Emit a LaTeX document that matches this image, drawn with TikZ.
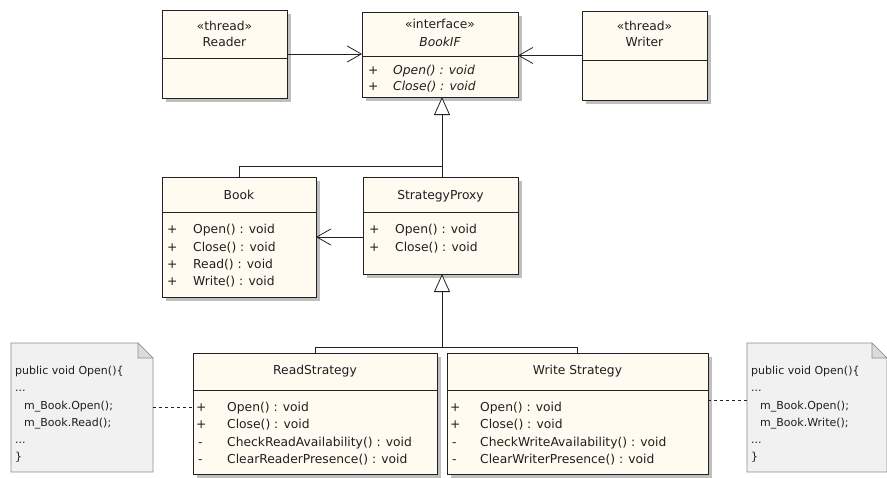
\documentclass[tikz,border=0pt]{standalone}
\usepackage{fontspec}
\setmainfont{DejaVu Sans}
\usetikzlibrary{arrows.meta,shadows}
\definecolor{cream}{HTML}{FFFBF0}
\definecolor{notefill}{HTML}{F1F1F1}
\definecolor{notedraw}{HTML}{8C8C8C}
\definecolor{linec}{HTML}{222222}
\begin{document}
\begin{tikzpicture}[x=1pt,y=-1pt,
  classbox/.style={draw=linec, fill=cream, line width=0.9pt, anchor=north west,
    inner sep=0pt, outer sep=0pt,
    drop shadow={shadow xshift=3.5pt, shadow yshift=-3.5pt, fill=black!25, opacity=1}},
  notespace/.style={anchor=north west, inner sep=0pt, outer sep=0pt},
  notebox/.style={draw=notedraw, fill=notefill, line width=0.7pt},
  foldbox/.style={draw=notedraw, fill=black!14, line width=0.6pt},
  divline/.style={draw=linec, line width=0.9pt},
  txt/.style={inner sep=0pt, text=black!88, font=\fontsize{12.3}{15}\selectfont,
    text height=9pt, text depth=3pt},
  ntxt/.style={txt, anchor=west, font=\fontsize{11}{14}\selectfont},
  mem/.style={txt, anchor=west},
  conn/.style={draw=linec, line width=0.9pt},
  assoc/.style={conn, -{Straight Barb[length=14pt,width=16pt,line width=0.8pt]}},
  gen/.style={conn, -{Triangle[open,length=18pt,width=16pt,line width=0.8pt,fill=white]}},
  notelink/.style={draw=linec, line width=0.9pt, dash pattern=on 3pt off 3pt}
]
\useasboundingbox[fill=white] (0,0) rectangle (887,477);

% ---------- class boxes ----------
\node[classbox, minimum width=125pt, minimum height=88pt] (reader) at (162,10) {};
\node[classbox, minimum width=156pt, minimum height=85pt] (bookif) at (362,12) {};
\node[classbox, minimum width=125pt, minimum height=89pt] (writer) at (582,11) {};
\node[classbox, minimum width=154pt, minimum height=120pt] (book) at (162,177) {};
\node[classbox, minimum width=155pt, minimum height=97pt] (sp) at (363,177) {};
\node[classbox, minimum width=244pt, minimum height=121pt] (rs) at (193,353) {};
\node[classbox, minimum width=261pt, minimum height=121pt] (ws) at (447,353) {};

% dividers
\draw[divline] (162,58) -- (287,58);
\draw[divline] (362,56) -- (518,56);
\draw[divline] (582,60) -- (707,60);
\draw[divline] (162,212) -- (316,212);
\draw[divline] (363,212) -- (518,212);
\draw[divline] (193,390) -- (437,390);
\draw[divline] (447,390) -- (708,390);

% Reader
\node[txt] (readerst) at (224.5,27) {«thread»};
\node[txt] (readern) at (224.5,43) {Reader};
% BookIF
\node[txt] (bookifst) at (440,25) {«interface»};
\node[txt, font=\fontsize{12.3}{15}\selectfont\itshape] (bookifn) at (440,43) {BookIF};
\node[mem] (bif1p) at (368,71) {+};
\node[mem, font=\fontsize{12.3}{15}\selectfont\itshape] (bif1) at (393,71) {Open() : void};
\node[mem] (bif2p) at (368,87) {+};
\node[mem, font=\fontsize{12.3}{15}\selectfont\itshape] (bif2) at (393,87) {Close() : void};
% Writer
\node[txt] (writerst) at (644.5,27) {«thread»};
\node[txt] (writern) at (644.5,43) {Writer};
% Book
\node[txt] (bookn) at (239,196) {Book};
\node[mem] (b1p) at (167,230) {+};
\node[mem] (b1) at (193,230) {Open() : void};
\node[mem] (b2p) at (167,248) {+};
\node[mem] (b2) at (193,248) {Close() : void};
\node[mem] (b3p) at (167,265) {+};
\node[mem] (b3) at (193,265) {Read() : void};
\node[mem] (b4p) at (167,282) {+};
\node[mem] (b4) at (193,282) {Write() : void};
% StrategyProxy
\node[txt] (spn) at (440.5,196) {StrategyProxy};
\node[mem] (sp1p) at (369,230) {+};
\node[mem] (sp1) at (395,230) {Open() : void};
\node[mem] (sp2p) at (369,248) {+};
\node[mem] (sp2) at (395,248) {Close() : void};
% ReadStrategy
\node[txt] (rsn) at (315,371) {ReadStrategy};
\node[mem] (rs1p) at (196,408) {+};
\node[mem] (rs1) at (227,408) {Open() : void};
\node[mem] (rs2p) at (196,425) {+};
\node[mem] (rs2) at (227,425) {Close() : void};
\node[mem] (rs3p) at (198,443) {-};
\node[mem] (rs3) at (227,443) {CheckReadAvailability() : void};
\node[mem] (rs4p) at (198,460) {-};
\node[mem] (rs4) at (227,460) {ClearReaderPresence() : void};
% WriteStrategy
\node[txt] (wsn) at (577.5,371) {Write Strategy};
\node[mem] (ws1p) at (450,408) {+};
\node[mem] (ws1) at (480,408) {Open() : void};
\node[mem] (ws2p) at (450,425) {+};
\node[mem] (ws2) at (480,425) {Close() : void};
\node[mem] (ws3p) at (452,443) {-};
\node[mem] (ws3) at (480,443) {CheckWriteAvailability() : void};
\node[mem] (ws4p) at (452,460) {-};
\node[mem] (ws4) at (480,460) {ClearWriterPresence() : void};

% ---------- notes ----------
\node[notespace, minimum width=142pt, minimum height=129pt] (noteL) at (11,343) {};
\node[notespace, minimum width=140pt, minimum height=129pt] (noteR) at (747,343) {};
\draw[notebox] (noteL.north west) -- ([xshift=-15pt]noteL.north east)
  -- ([yshift=-15pt]noteL.north east) -- (noteL.south east) -- (noteL.south west) -- cycle;
\draw[foldbox] ([xshift=-15pt]noteL.north east) -- ([xshift=-15pt,yshift=-15pt]noteL.north east)
  -- ([yshift=-15pt]noteL.north east) -- cycle;
\draw[notebox] (noteR.north west) -- ([xshift=-15pt]noteR.north east)
  -- ([yshift=-15pt]noteR.north east) -- (noteR.south east) -- (noteR.south west) -- cycle;
\draw[foldbox] ([xshift=-15pt]noteR.north east) -- ([xshift=-15pt,yshift=-15pt]noteR.north east)
  -- ([yshift=-15pt]noteR.north east) -- cycle;

\node[ntxt] (nl1) at (15,371) {public void Open()\{};
\node[ntxt] (nl2) at (15,388) {...};
\node[ntxt] (nl3) at (24,406) {m\_Book.Open();};
\node[ntxt] (nl4) at (24,423) {m\_Book.Read();};
\node[ntxt] (nl5) at (15,440) {...};
\node[ntxt] (nl6) at (15,457) {\}};

\node[ntxt] (nr1) at (751,371) {public void Open()\{};
\node[ntxt] (nr2) at (751,388) {...};
\node[ntxt] (nr3) at (760,406) {m\_Book.Open();};
\node[ntxt] (nr4) at (760,423) {m\_Book.Write();};
\node[ntxt] (nr5) at (751,440) {...};
\node[ntxt] (nr6) at (751,457) {\}};

% ---------- connectors ----------
\draw[assoc] (reader.east) -- (bookif.west |- reader.east);
\draw[assoc] (writer.west) -- (bookif.east |- writer.west);

\coordinate (gx) at (442,0);
\coordinate (gj) at (442,166);
\draw[gen] (sp.north -| gx) -- (bookif.south -| gx);
\draw[conn] (book.north) |- (gj);

\coordinate (spa) at ([yshift=-11.5pt]sp.west);
\draw[assoc] (spa) -- (spa -| book.east);

\coordinate (rj) at (442,347);
\draw[conn] (rs.north) |- (rj);
\draw[conn] (ws.north) |- (rj);
\draw[gen] (rj) -- (sp.south -| rj);

\draw[notelink] (noteL.east) -- (noteL.east -| rs.west);
\coordinate (wsd) at ([yshift=13.5pt]ws.east);
\draw[notelink] (wsd) -- (wsd -| noteR.west);
\end{tikzpicture}
\end{document}
